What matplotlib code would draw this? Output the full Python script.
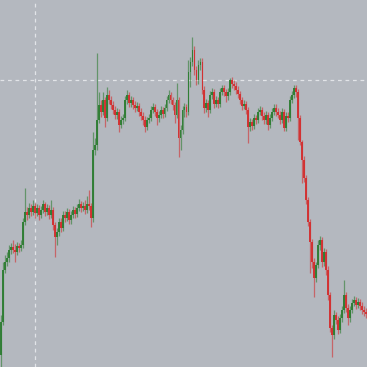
import matplotlib
matplotlib.use("Agg")
import matplotlib.pyplot as plt
import numpy as np

# candle data (price units), one candle per bar
first_open = 12
closes = [
    45, 97, 105, 109, 117, 120, 117, 115, 121, 119,
    122, 145, 155, 152, 159, 155, 161, 154, 159, 152,
    157, 163, 155, 159, 152, 157, 142, 130, 135, 145,
    139, 152, 149, 155, 147, 152, 157, 153, 159, 163,
    159, 161, 157, 163, 161, 149, 217, 222, 247, 262,
    255, 267, 249, 272, 267, 262, 257, 252, 255, 242,
    247, 249, 267, 272, 264, 267, 262, 259, 261, 255,
    251, 247, 240, 247, 249, 257, 260, 255, 249, 252,
    257, 253, 259, 267, 272, 267, 262, 252, 267, 229,
    237, 257, 260, 255, 295, 305, 317, 297, 287, 302,
    305, 277, 259, 264, 257, 272, 275, 263, 267, 263,
    275, 279, 275, 271, 275, 287, 283, 281, 277, 273,
    267, 261, 263, 257, 240, 245, 241, 249, 247, 255,
    257, 251, 247, 252, 242, 249, 255, 259, 255, 252,
    247, 255, 239, 251, 249, 267, 272, 279, 275, 249,
    225, 207, 189, 167, 145, 125, 105, 89, 102, 122,
    127, 105, 115, 97, 72, 39, 32, 52, 47, 37,
    49, 57, 72, 59, 49, 57, 64, 67, 62, 65,
    61, 57, 55, 53,
]
highs = [
    52, 105, 112, 115, 122, 124, 127, 123, 125, 124,
    127, 149, 179, 160, 164, 163, 167, 164, 163, 162,
    161, 167, 165, 163, 162, 167, 160, 145, 139, 149,
    149, 156, 156, 159, 158, 156, 161, 160, 163, 168,
    166, 165, 167, 171, 177, 164, 235, 229, 314, 275,
    267, 275, 270, 280, 277, 271, 266, 261, 259, 258,
    251, 253, 271, 277, 275, 271, 270, 266, 265, 264,
    259, 255, 251, 250, 253, 261, 264, 263, 258, 256,
    261, 260, 263, 271, 277, 275, 270, 265, 284, 270,
    242, 261, 264, 263, 307, 310, 330, 321, 301, 307,
    309, 309, 281, 268, 267, 276, 279, 278, 271, 270,
    279, 282, 282, 278, 279, 289, 290, 287, 285, 281,
    276, 270, 267, 266, 260, 249, 248, 253, 252, 259,
    261, 260, 255, 256, 255, 253, 259, 263, 263, 259,
    256, 259, 258, 255, 255, 271, 276, 282, 282, 278,
    252, 227, 211, 192, 170, 148, 128, 109, 105, 127,
    131, 130, 119, 118, 101, 75, 42, 57, 55, 51,
    53, 61, 87, 75, 63, 61, 68, 71, 70, 69,
    68, 65, 61, 59,
]
lows = [
    0, 42, 94, 101, 105, 113, 114, 105, 112, 115,
    116, 119, 142, 147, 149, 151, 152, 149, 151, 147,
    149, 154, 151, 152, 148, 149, 137, 110, 122, 131,
    135, 136, 145, 146, 143, 143, 149, 149, 150, 156,
    155, 156, 153, 154, 157, 140, 145, 212, 217, 244,
    250, 252, 240, 246, 263, 258, 253, 248, 248, 235,
    239, 243, 246, 263, 260, 260, 258, 255, 256, 251,
    247, 242, 235, 237, 244, 246, 254, 251, 242, 245,
    249, 249, 250, 256, 264, 263, 257, 244, 249, 210,
    217, 233, 250, 250, 252, 280, 301, 292, 282, 283,
    297, 273, 254, 255, 250, 254, 268, 259, 260, 259,
    260, 272, 271, 265, 267, 272, 279, 277, 273, 269,
    263, 257, 258, 253, 224, 236, 237, 238, 243, 244,
    252, 247, 243, 243, 237, 239, 246, 252, 251, 249,
    243, 244, 236, 236, 245, 246, 264, 269, 270, 227,
    222, 184, 185, 163, 141, 94, 99, 70, 85, 99,
    117, 100, 101, 92, 67, 35, 10, 28, 43, 33,
    34, 45, 54, 55, 42, 45, 54, 61, 58, 59,
    57, 53, 51, 49,
]
crosshair_bar = 17
crosshair_price = 287

bg = "#b4b8bf"
up_color = "#2e7d32"
down_color = "#d32f2f"

opens = [first_open] + closes[:-1]
n = len(closes)
x = np.arange(n)
o = np.array(opens)
c = np.array(closes)
h = np.array(highs)
l = np.array(lows)
up = c >= o
colors = np.where(up, up_color, down_color)

fig = plt.figure(figsize=(3.67, 3.67), dpi=100, facecolor=bg)
ax = fig.add_axes([0, 0, 1, 1])
ax.set_facecolor(bg)

ax.axvline(crosshair_bar, color="#e2e4e8", lw=0.9, dashes=(3, 3), zorder=1)
ax.axhline(crosshair_price, color="#e2e4e8", lw=0.9, dashes=(3, 3), zorder=1)

ax.vlines(x, l, h, colors=colors, lw=0.9, alpha=0.6, zorder=2)
body_h = np.abs(c - o)
body_h = np.maximum(body_h, 1.5)
ax.bar(x, body_h, bottom=np.minimum(o, c), width=0.95, color=colors,
       linewidth=0, alpha=0.95, zorder=3)

ax.set_xlim(-0.5, n - 0.5)
ax.set_ylim(0, 367)
ax.axis("off")

fig.savefig("out.png", dpi=100, facecolor=bg)
